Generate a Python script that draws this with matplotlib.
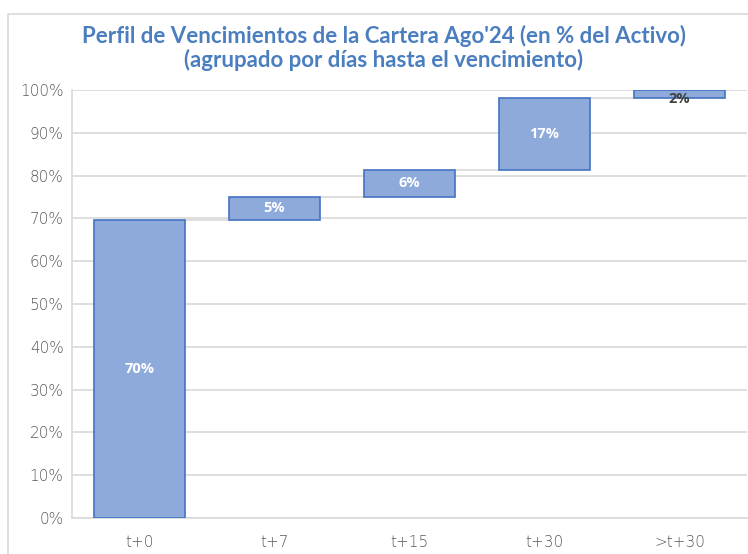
import matplotlib
matplotlib.use("Agg")
import matplotlib.pyplot as plt
from matplotlib.patches import Rectangle

categories = ["t+0", "t+7", "t+15", "t+30", ">t+30"]
values = [69.7, 5.4, 6.2, 16.9, 1.8]
labels = ["70%", "5%", "6%", "17%", "2%"]
yticks = [0, 10, 20, 30, 40, 50, 60, 70, 80, 90, 100]
ytick_labels = [f"{v}%" for v in yticks]
title = "Perfil de Vencimientos de la Cartera Ago'24 (en % del Activo)\n(agrupado por días hasta el vencimiento)"

fill = "#8eaadb"
edge = "#4472c4"
grid = "#d9d9d9"
title_color = "#4a7ebf"

fig = plt.figure(figsize=(7.48, 5.54), dpi=100)
fig.patches.append(Rectangle((8/748, -0.1), 1.1, 1 - 14/554 + 0.1, transform=fig.transFigure,
                             fill=False, edgecolor="#d9d9d9", linewidth=1.2))
ax = fig.add_axes([72/748, 1 - 518/554, (747 - 72)/748, (518 - 90)/554])

bottoms = []
cum = 0
for v in values:
    bottoms.append(cum)
    cum += v
x = list(range(len(categories)))
w = 0.667
ax.bar(x, values, bottom=bottoms, width=w, color=fill, edgecolor=edge, linewidth=1.2, zorder=3)

# connectors
for i in range(len(values) - 1):
    top = bottoms[i] + values[i]
    ax.plot([i + w/2, i + 1 - w/2], [top, top], color=grid, linewidth=1.2, zorder=2)

for i, (b, v, lab) in enumerate(zip(bottoms, values, labels)):
    if i == len(values) - 1:
        ax.text(i, b + v/2 - 1.2, lab, ha="center", va="center", color="#404040",
                fontsize=10.5, fontweight="bold", family="Open Sans", zorder=4)
    else:
        ax.text(i, b + v/2, lab, ha="center", va="center", color="white",
                fontsize=10.5, fontweight="bold", family="Open Sans", zorder=4)

ax.set_xlim(-0.5, len(categories) - 0.5)
ax.set_ylim(0, 100)
ax.set_yticks(yticks)
ax.set_yticklabels(ytick_labels)
ax.set_xticks(x)
ax.set_xticklabels(categories)
ax.grid(axis="y", color=grid, linewidth=1.2, zorder=0)
ax.set_axisbelow(True)
for s in ["top", "right"]:
    ax.spines[s].set_visible(False)
for s in ["left", "bottom"]:
    ax.spines[s].set_color(grid)
    ax.spines[s].set_linewidth(1.2)
ax.tick_params(axis="both", length=0, colors="#595959", labelsize=11)
ax.tick_params(axis="x", pad=12)
ax.tick_params(axis="y", pad=6)
for t in ax.get_xticklabels() + ax.get_yticklabels():
    t.set_family("DejaVu Sans")
    t.set_fontweight("light")

fig.text(384/748, 1 - 48/554, title, ha="center", va="center", color=title_color,
         fontsize=16, fontweight="bold", family="Lato", linespacing=1.1)

fig.savefig("out.png", dpi=100)
